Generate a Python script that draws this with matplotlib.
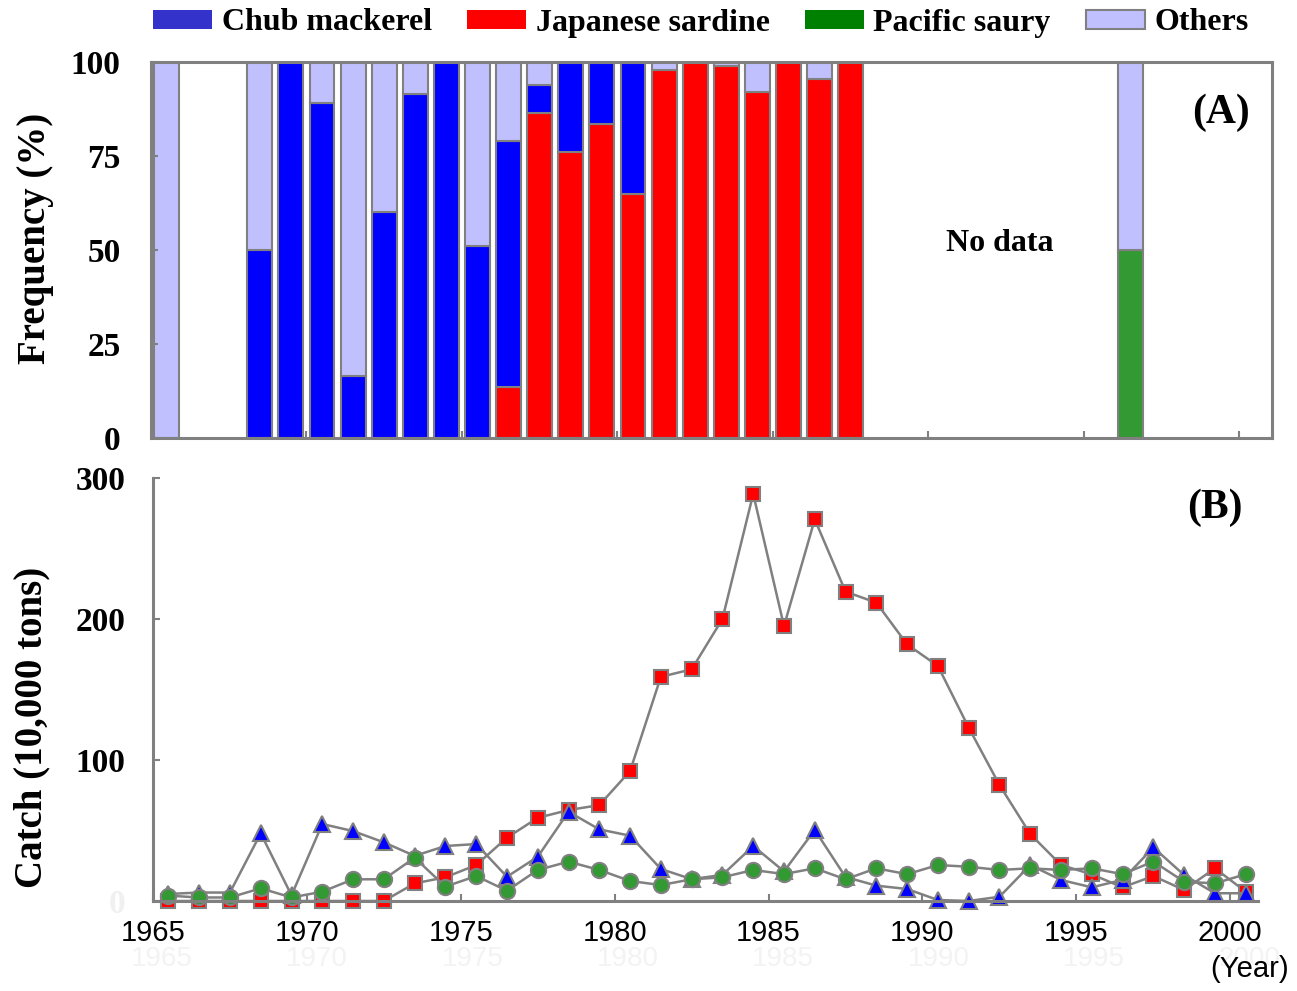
import numpy as np
import matplotlib.pyplot as plt
from matplotlib.patches import Patch

# panel A: species composition (%) in years with data
bar_years = [1965, 1968, 1969, 1970, 1971, 1972, 1973, 1974, 1975, 1976, 1977,
             1978, 1979, 1980, 1981, 1982, 1983, 1984, 1985, 1986, 1987, 1996]
sardine_pct = [0, 0, 0, 0, 0, 0, 0, 0, 0, 13.5, 86.5,
               76, 83.5, 65, 98, 100, 99, 92, 100, 95.5, 100, 0]
mackerel_pct = [0, 50, 100, 89, 16.5, 60, 91.5, 100, 51, 65.5, 7.5,
                24, 16.5, 35, 0, 0, 0, 0, 0, 0, 0, 0]
saury_pct = [0] * 21 + [50]

# panel B: catch (10,000 tons), 1965-2000
years = list(range(1965, 2001))
sardine_catch = [0, 0, 0, 0, 0, 0, 0, 0, 12.5, 16.8, 25.5, 44.9, 59, 64.5, 68, 92.2,
                 159, 164.3, 200, 288.7, 195, 270.7, 219.4, 211.6, 182, 166.7, 123,
                 82.3, 47.5, 25.5, 18.9, 9.7, 17.7, 7.8, 23.2, 6.6]
mackerel_catch = [5, 6, 6, 48, 4, 54.6, 49.6, 41.6, 32, 39, 40.4, 17.2, 31.4, 63.3,
                  50.8, 46.3, 22.7, 15.5, 18.5, 39, 21, 50.4, 17, 10.9, 8.5, 0.7, 0,
                  3, 25.5, 14.9, 9.7, 15, 38, 18.4, 5.5, 5.5]
saury_catch = [3.8, 2.5, 2.5, 9, 2.5, 6.6, 15.4, 15.4, 30.7, 10.2, 17.7, 7.3, 22,
               27.9, 22, 14.2, 11.3, 15.4, 16.8, 22, 19.1, 23.2, 15.4, 23.2, 19,
               25.5, 24.3, 22, 23.2, 22, 23.2, 19, 28, 13.7, 12.5, 19]
year_labels = ['1965', '1970', '1975', '1980', '1985', '1990', '1995', '2000']

serif = 'Liberation Serif'
sans = 'Liberation Sans'
grey = '#808080'
c_mack = '#0000ff'
c_sard = '#ff0000'
c_saury = '#339933'
c_other = '#c0c0ff'

fig = plt.figure(figsize=(12.97, 9.91), dpi=100)
W, H = 1297, 991
axA = fig.add_axes([151 / W, 1 - 438 / H, (1272 - 151) / W, 376 / H])
axB = fig.add_axes([153 / W, 1 - 901 / H, (1258 - 153) / W, 423 / H])

# ---- panel A
idx = np.array(bar_years) - 1965
sard = np.array(sardine_pct, float)
mack = np.array(mackerel_pct, float)
saur = np.array(saury_pct, float)
oth = 100 - sard - mack - saur
bottom = np.zeros(len(idx))
for vals, col in [(sard, c_sard), (mack, c_mack), (saur, c_saury), (oth, c_other)]:
    m = vals > 0
    axA.bar(idx[m], vals[m], bottom=bottom[m], width=0.8, color=col,
            edgecolor=grey, linewidth=1.5)
    bottom = bottom + vals

axA.set_xlim(-0.5, 35.55)
axA.set_ylim(0, 100)
axA.set_yticks([0, 25, 50, 75, 100])
axA.set_xticks(np.arange(4.5, 35, 5))
axA.set_xticklabels([])
for s in axA.spines.values():
    s.set_color(grey)
    s.set_linewidth(2.2)
axA.tick_params(axis='both', direction='in', length=5, width=1.5, color=grey)
axA.tick_params(axis='y', pad=22)
for t in axA.get_yticklabels():
    t.set_fontfamily(serif)
    t.set_fontweight('bold')
    t.set_fontsize(24)
axA.text(26.8, 51.6, 'No data', family=serif, weight='bold', fontsize=23,
         ha='center', va='center')
axA.text(33.9, 86.5, '(A)', family=serif, weight='bold', fontsize=30,
         ha='center', va='center')
fig.text(36 / W, 1 - 238 / H, 'Frequency (%)', family=serif, weight='bold',
         fontsize=28, rotation=90, ha='center', va='center')

# ---- panel B
xi = np.array(years) - 1965
line_kw = dict(color=grey, linewidth=1.8, markeredgecolor=grey,
               markeredgewidth=1.5, clip_on=False)
axB.plot(xi, sardine_catch, marker='s', markersize=10.5, markerfacecolor=c_sard, **line_kw)
axB.plot(xi, mackerel_catch, marker='^', markersize=11, markerfacecolor=c_mack, **line_kw)
axB.plot(xi, saury_catch, marker='o', markersize=11, markerfacecolor=c_saury, **line_kw)

axB.set_xlim(-0.49, 35.4)
axB.set_ylim(0, 300)
axB.set_yticks([0, 100, 200, 300])
axB.set_xticks(np.arange(-0.5, 35, 5))
axB.set_xticklabels(year_labels, family=sans, fontsize=21)
for s in ['top', 'right']:
    axB.spines[s].set_visible(False)
for s in ['left', 'bottom']:
    axB.spines[s].set_color(grey)
    axB.spines[s].set_linewidth(2.2)
axB.tick_params(axis='both', direction='in', length=5, width=1.5, color=grey)
axB.tick_params(axis='y', pad=20)
axB.tick_params(axis='x', pad=13)
for t in axB.get_yticklabels():
    t.set_fontfamily(serif)
    t.set_fontweight('bold')
    t.set_fontsize(24)
axB.get_yticklabels()[0].set_color('#f0f0f0')
axB.text(34.0, 278.7, '(B)', family=serif, weight='bold', fontsize=30,
         ha='center', va='center')
fig.text(32 / W, 1 - 727 / H, 'Catch (10,000 tons)', family=serif, weight='bold',
         fontsize=28, rotation=90, ha='center', va='center')
fig.text(1250 / W, 1 - 969 / H, '(Year)', family=sans, fontsize=21,
         ha='center', va='center')
# faint duplicated year labels (barely visible in the original)
for k, lab in enumerate(year_labels):
    x = 162 + k * 155.3
    fig.text(x / W, 1 - 959 / H, lab, family=sans, fontsize=20, color='#f3f3f3',
             ha='center', va='center', zorder=0)

# ---- legend
handles = [Patch(facecolor='#3333cc', edgecolor='none'),
           Patch(facecolor=c_sard, edgecolor='none'),
           Patch(facecolor='#008000', edgecolor='none'),
           Patch(facecolor=c_other, edgecolor=grey, linewidth=1.5)]
labels = ['Chub mackerel', 'Japanese sardine', 'Pacific saury', 'Others']
fig.legend(handles, labels, loc='center', bbox_to_anchor=(701 / W, 1 - 23 / H),
           ncol=4, frameon=False, prop={'family': serif, 'weight': 'bold', 'size': 23},
           handlelength=1.85, handleheight=0.55, handletextpad=0.3, columnspacing=1.1)

fig.savefig('out.png', dpi=100)
